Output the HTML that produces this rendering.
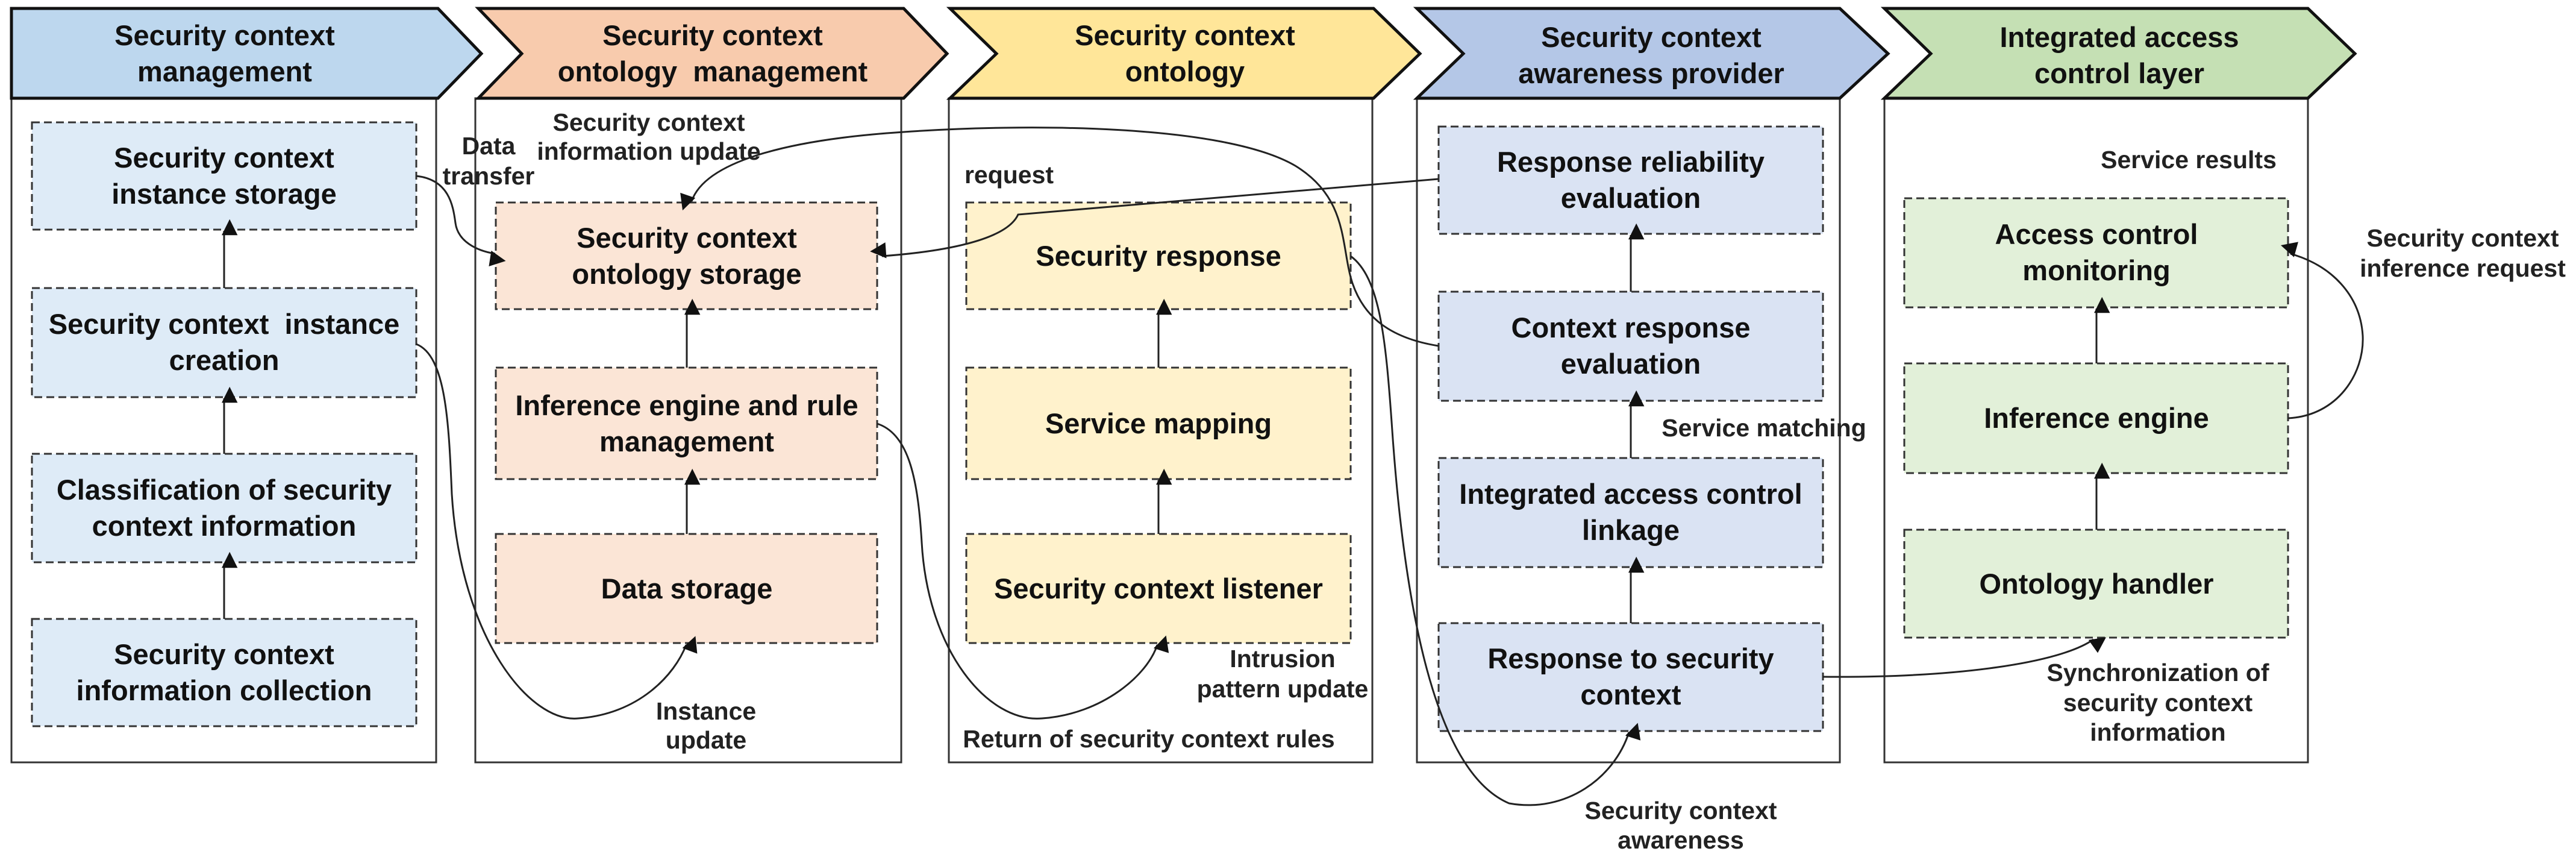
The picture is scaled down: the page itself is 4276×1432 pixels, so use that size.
<!DOCTYPE html>
<html><head><meta charset="utf-8"><style>
html,body{margin:0;padding:0;background:#fff;}
svg{display:block;}
text{font-family:"Liberation Sans",Arial,sans-serif;font-weight:bold;fill:#111;text-anchor:middle;}
.h{font-size:47px;}
.b{font-size:47px;}
.l{font-size:41px;fill:#222;}
.panel{fill:#fff;stroke:#333;stroke-width:3;}
.hd{stroke:#111;stroke-width:5;stroke-linejoin:miter;}
.bx{stroke:#333;stroke-width:3;stroke-dasharray:13 7;}
.c{fill:none;stroke:#222;stroke-width:3;}
</style></head><body>
<svg width="4276" height="1432" viewBox="0 0 4276 1432" xmlns="http://www.w3.org/2000/svg">
<defs>
<marker id="a" viewBox="0 0 10 10" refX="9" refY="5" markerWidth="8" markerHeight="8" markerUnits="userSpaceOnUse" orient="auto" style="overflow:visible">
<path d="M0,0 L10,5 L0,10 z" fill="#111" transform="scale(3.3)" />
</marker>
</defs>

<!-- panels -->
<rect class="panel" x="19" y="163" width="705" height="1102"/>
<rect class="panel" x="789" y="163" width="707" height="1102"/>
<rect class="panel" x="1575" y="163" width="703" height="1102"/>
<rect class="panel" x="2352" y="163" width="702" height="1102"/>
<rect class="panel" x="3128" y="163" width="703" height="1102"/>

<!-- headers -->
<polygon class="hd" fill="#bdd7ee" points="19,14 727,14 799,89 727,163 19,163"/>
<polygon class="hd" fill="#f8cbad" points="794,14 1500,14 1572,89 1500,163 794,163 866,89"/>
<polygon class="hd" fill="#ffe699" points="1577,14 2280,14 2357,89 2280,163 1577,163 1654,89"/>
<polygon class="hd" fill="#b4c7e7" points="2352,14 3054,14 3134,89 3054,163 2352,163 2429,89"/>
<polygon class="hd" fill="#c5e0b4" points="3128,14 3831,14 3909,89 3831,163 3128,163 3205,89"/>
<text class="h" x="373" y="75">Security context</text><text class="h" x="373" y="135">management</text>
<text class="h" x="1183" y="75">Security context</text><text class="h" x="1183" y="135" xml:space="preserve">ontology  management</text>
<text class="h" x="1967" y="75">Security context</text><text class="h" x="1967" y="135">ontology</text>
<text class="h" x="2741" y="78">Security context</text><text class="h" x="2741" y="138">awareness provider</text>
<text class="h" x="3518" y="78">Integrated access</text><text class="h" x="3518" y="138">control layer</text>

<!-- panel 1 boxes -->
<g fill="#deebf7">
<rect class="bx" x="53" y="203" width="638" height="178"/>
<rect class="bx" x="53" y="478" width="638" height="181"/>
<rect class="bx" x="53" y="753" width="638" height="180"/>
<rect class="bx" x="53" y="1027" width="638" height="178"/>
</g>
<text class="b" x="372" y="278">Security context</text><text class="b" x="372" y="338">instance storage</text>
<text class="b" x="372" y="554" xml:space="preserve">Security context  instance</text><text class="b" x="372" y="614">creation</text>
<text class="b" x="372" y="829">Classification of security</text><text class="b" x="372" y="889">context information</text>
<text class="b" x="372" y="1102">Security context</text><text class="b" x="372" y="1162">information collection</text>

<!-- panel 2 boxes -->
<g fill="#fbe5d6">
<rect class="bx" x="823" y="336" width="633" height="177"/>
<rect class="bx" x="823" y="610" width="633" height="185"/>
<rect class="bx" x="823" y="886" width="633" height="181"/>
</g>
<text class="b" x="1140" y="411">Security context</text><text class="b" x="1140" y="471">ontology storage</text>
<text class="b" x="1140" y="689">Inference engine and rule</text><text class="b" x="1140" y="749">management</text>
<text class="b" x="1140" y="993">Data storage</text>

<!-- panel 3 boxes -->
<g fill="#fff2cc">
<rect class="bx" x="1604" y="336" width="638" height="177"/>
<rect class="bx" x="1604" y="610" width="638" height="185"/>
<rect class="bx" x="1604" y="886" width="638" height="181"/>
</g>
<text class="b" x="1923" y="441">Security response</text>
<text class="b" x="1923" y="719">Service mapping</text>
<text class="b" x="1923" y="993">Security context listener</text>

<!-- panel 4 boxes -->
<g fill="#dae3f3">
<rect class="bx" x="2388" y="210" width="638" height="178"/>
<rect class="bx" x="2388" y="484" width="638" height="181"/>
<rect class="bx" x="2388" y="760" width="638" height="181"/>
<rect class="bx" x="2388" y="1034" width="638" height="179"/>
</g>
<text class="b" x="2707" y="285">Response reliability</text><text class="b" x="2707" y="345">evaluation</text>
<text class="b" x="2707" y="560">Context response</text><text class="b" x="2707" y="620">evaluation</text>
<text class="b" x="2707" y="836">Integrated access control</text><text class="b" x="2707" y="896">linkage</text>
<text class="b" x="2707" y="1109">Response to security</text><text class="b" x="2707" y="1169">context</text>

<!-- panel 5 boxes -->
<g fill="#e2f0d9">
<rect class="bx" x="3161" y="329" width="637" height="181"/>
<rect class="bx" x="3161" y="603" width="637" height="182"/>
<rect class="bx" x="3161" y="879" width="637" height="179"/>
</g>
<text class="b" x="3480" y="405">Access control</text><text class="b" x="3480" y="465">monitoring</text>
<text class="b" x="3480" y="710">Inference engine</text>
<text class="b" x="3480" y="985">Ontology handler</text>

<!-- vertical arrows -->
<g class="c" marker-end="url(#a)">
<line x1="372" y1="478" x2="372" y2="383"/>
<line x1="372" y1="753" x2="372" y2="661"/>
<line x1="372" y1="1027" x2="372" y2="935"/>
<line x1="1140" y1="610" x2="1140" y2="515"/>
<line x1="1140" y1="886" x2="1140" y2="797"/>
<line x1="1923" y1="610" x2="1923" y2="515"/>
<line x1="1923" y1="886" x2="1923" y2="797"/>
<line x1="2707" y1="484" x2="2707" y2="390"/>
<line x1="2707" y1="760" x2="2707" y2="667"/>
<line x1="2707" y1="1034" x2="2707" y2="943"/>
<line x1="3480" y1="603" x2="3480" y2="512"/>
<line x1="3480" y1="879" x2="3480" y2="787"/>
</g>

<!-- curved connectors -->
<g class="c" marker-end="url(#a)">
<path d="M691,292 C745,298 752,340 756,370 C760,400 790,416 822,421"/>
<path d="M691,571 C740,590 745,700 750,820 C765,1060 880,1200 960,1192 C1060,1185 1120,1120 1139,1070"/>
<path d="M1456,703 C1510,720 1524,800 1530,900 C1540,1080 1640,1200 1730,1192 C1830,1185 1905,1120 1921,1070"/>
<path d="M2388,574 C2300,560 2262,520 2245,470 C2225,410 2240,330 2150,275 C2030,205 1700,205 1500,219 C1300,232 1170,270 1148,334"/>
<path d="M2388,297 L1690,356 C1670,400 1560,418 1464,425"/>
<path d="M2242,425 C2290,460 2300,560 2310,700 C2330,1000 2380,1280 2505,1333 C2600,1350 2680,1290 2704,1215"/>
<path d="M3026,1123 C3250,1125 3420,1100 3475,1061"/>
<path d="M3798,694 C3880,690 3925,620 3922,557 C3918,490 3870,440 3802,421"/>
</g>

<!-- connector labels -->
<text class="l" x="811" y="256">Data</text><text class="l" x="811" y="306">transfer</text>
<text class="l" x="1077" y="217">Security context</text><text class="l" x="1077" y="265">information update</text>
<text class="l" x="1172" y="1194">Instance</text><text class="l" x="1172" y="1242">update</text>
<text class="l" x="1675" y="304">request</text>
<text class="l" x="2129" y="1107">Intrusion</text><text class="l" x="2129" y="1157">pattern update</text>
<text class="l" x="1907" y="1240">Return of security context rules</text>
<text class="l" x="2928" y="724">Service matching</text>
<text class="l" x="2790" y="1359">Security context</text><text class="l" x="2790" y="1408">awareness</text>
<text class="l" x="3633" y="279">Service results</text>
<text class="l" x="4088" y="409">Security context</text><text class="l" x="4088" y="459">inference request</text>
<text class="l" x="3582" y="1130">Synchronization of</text><text class="l" x="3582" y="1180">security context</text><text class="l" x="3582" y="1229">information</text>
</svg>
</body></html>
